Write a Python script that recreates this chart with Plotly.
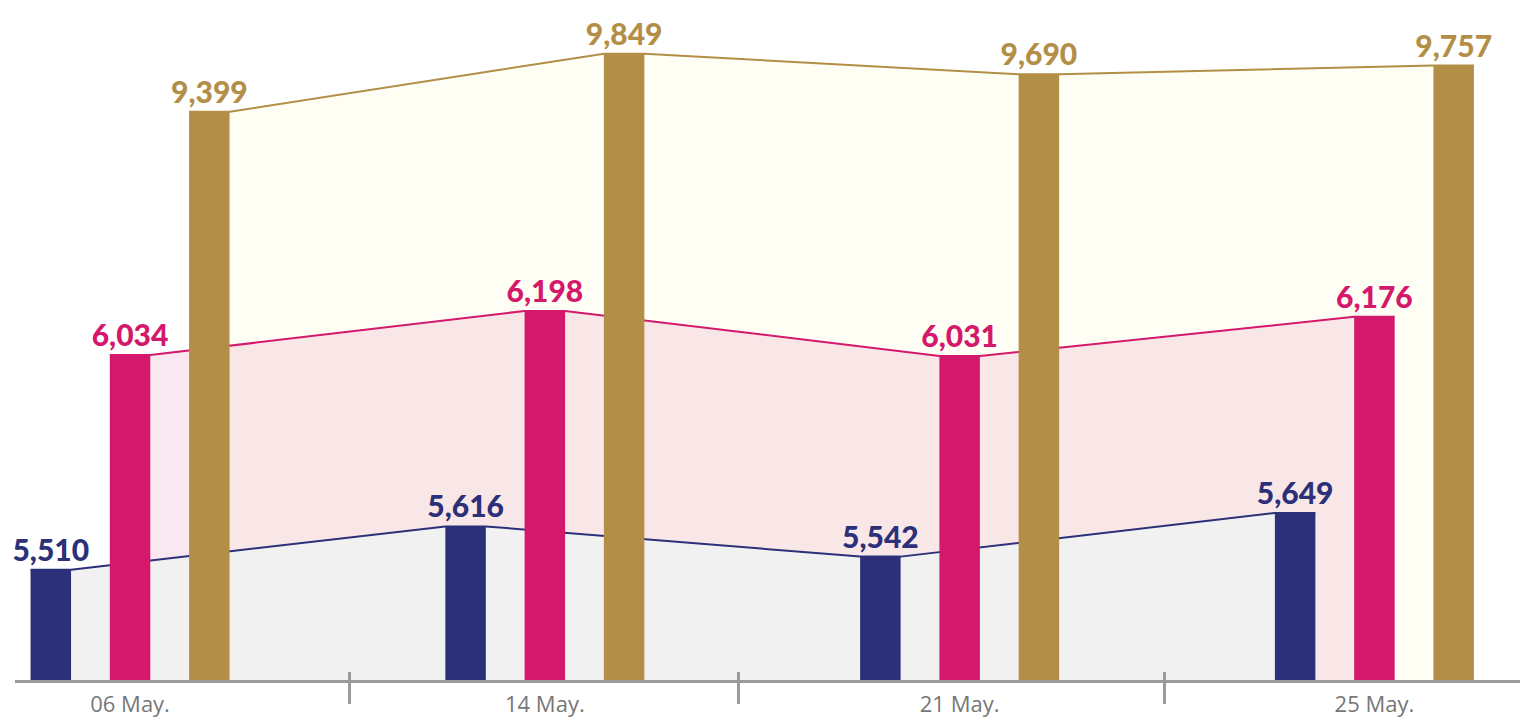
import plotly.graph_objects as go

dates = ["06 May.", "14 May.", "21 May.", "25 May."]
navy_vals = [5510, 5616, 5542, 5649]
pink_vals = [6034, 6198, 6031, 6176]
gold_vals = [9399, 9849, 9690, 9757]
# separator ticks between the dates (in group units)
separators = [0.53, 1.468, 2.495]

BAR_W = 0.0976
STEP = 0.1911

# each series: values, colour, area fill, value range of its own hidden axis, offset in group
series = [
    dict(vals=gold_vals, color="#b38e47", fill="#fffef4", rng=[5004, 10187], off=STEP),
    dict(vals=pink_vals, color="#d4186c", fill="rgba(225,140,180,0.2)", rng=[4828, 7315], off=0.0),
    dict(vals=navy_vals, color="#2b3079", fill="#f1f1f1", rng=[5240, 6880], off=-STEP),
]


def edges(vals, off):
    xs, ys = [], []
    for i, v in enumerate(vals):
        xs += [i + off - BAR_W / 2, i + off + BAR_W / 2]
        ys += [v, v]
    return xs, ys


fig = go.Figure()

# areas first (y, y2, y3), bars on later overlays (y4, y5, y6) so they sit on top
for k, s in enumerate(series):
    xs, ys = edges(s["vals"], s["off"])
    fig.add_trace(go.Scatter(
        x=xs, y=ys, mode="lines", fill="tozeroy", fillcolor=s["fill"],
        line=dict(color=s["color"], width=2), hoverinfo="skip",
        yaxis="y" if k == 0 else f"y{k + 1}",
    ))

for k, s in enumerate(series):
    fig.add_trace(go.Bar(
        x=[i + s["off"] for i in range(len(dates))], y=s["vals"], width=BAR_W,
        marker=dict(color=s["color"], line=dict(width=0)),
        text=[f"{v:,}" for v in s["vals"]], textposition="outside",
        constraintext="none", cliponaxis=False,
        textfont=dict(family="Lato", size=30, color=s["color"], weight=900),
        hoverinfo="skip", yaxis=f"y{k + 4}",
        # last layer also carries the axis with the upper half of the separator ticks
        xaxis="x2" if k == 2 else "x",
    ))

xr = [-0.2774, 3.351]
hidden = dict(visible=False, fixedrange=True, automargin=False)
layout_axes = {"yaxis": dict(range=series[0]["rng"], **hidden)}
for k in range(1, 6):
    layout_axes[f"yaxis{k + 1}"] = dict(range=series[k % 3]["rng"], overlaying="y",
                                       anchor="x", **hidden)

fig.update_layout(
    width=1526, height=721,
    margin=dict(l=15, r=6, t=10, b=41),
    paper_bgcolor="white", plot_bgcolor="white",
    showlegend=False,
    xaxis=dict(
        range=xr, tickvals=list(range(len(dates))), ticktext=dates, automargin=False,
        showgrid=False, zeroline=False, showline=True, linecolor="#9a9a9a", linewidth=3,
        ticks="", ticklabelstandoff=3,
        tickfont=dict(family="Open Sans", size=22, color="#777777"),
        minor=dict(tickvals=separators, ticks="outside", ticklen=21, tickwidth=3,
                   tickcolor="#9a9a9a", showgrid=False),
    ),
    xaxis2=dict(
        range=xr, overlaying="x", anchor="y", side="bottom", automargin=False,
        tickvals=separators, showticklabels=False, showgrid=False, zeroline=False,
        ticks="inside", ticklen=8, tickwidth=3, tickcolor="#9a9a9a",
    ),
    **layout_axes,
)

fig.write_html("out.html", config={"displayModeBar": False},
               post_script="document.body.style.margin='0';"
                           "document.body.style.overflow='hidden';")
